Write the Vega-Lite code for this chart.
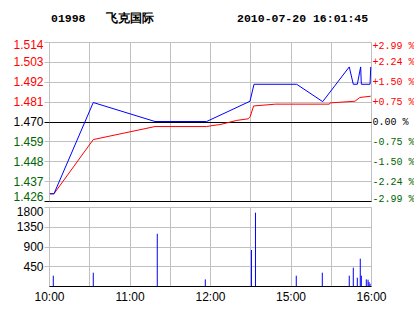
{
  "$schema": "https://vega.github.io/schema/vega-lite/v6.json",
  "background": "white",
  "padding": {"left": 12, "top": 12, "right": 0, "bottom": 0},
  "bounds": "flush",
  "title": {
    "text": "01998\u00a0\u00a0\u00a0飞克国际\u00a0\u00a0\u00a0\u00a0\u00a0\u00a0\u00a0\u00a0\u00a0\u00a0\u00a0\u00a02010-07-20\u00a016:01:45",
    "anchor": "start",
    "frame": "group",
    "font": "Liberation Mono",
    "fontSize": 11.5,
    "fontWeight": "bold",
    "color": "black",
    "offset": 14,
    "dx": 2
  },
  "config": {
    "view": {"stroke": "#c0c0c0"},
    "axis": {
      "labelFont": "Liberation Sans",
      "labelFontSize": 12,
      "labelColor": "black",
      "gridColor": "#c0c0c0",
      "gridOpacity": 1,
      "tickColor": "#c0c0c0",
      "domain": false,
      "title": null
    }
  },
  "datasets": {
    "price": [
      {"t": 0.7, "price": 1.43}, {"t": 3.7, "price": 1.43}, {"t": 33, "price": 1.4805},
      {"t": 79, "price": 1.47}, {"t": 117.5, "price": 1.47}, {"t": 149.8, "price": 1.4812},
      {"t": 152.8, "price": 1.4906}, {"t": 184.6, "price": 1.4906}, {"t": 204, "price": 1.481},
      {"t": 223.8, "price": 1.5002}, {"t": 226.8, "price": 1.4906}, {"t": 229.8, "price": 1.4906},
      {"t": 232.3, "price": 1.5002}, {"t": 232.8, "price": 1.4906}, {"t": 239.3, "price": 1.4906},
      {"t": 239.8, "price": 1.5002}
    ],
    "avg": [
      {"t": 0.7, "avg": 1.43}, {"t": 3.7, "avg": 1.43}, {"t": 33, "avg": 1.46},
      {"t": 79, "avg": 1.4672}, {"t": 117.5, "avg": 1.4672}, {"t": 122.2, "avg": 1.4678},
      {"t": 127.5, "avg": 1.4683}, {"t": 139.9, "avg": 1.4706}, {"t": 148.5, "avg": 1.4715},
      {"t": 150, "avg": 1.4728}, {"t": 152.5, "avg": 1.4786}, {"t": 169, "avg": 1.4796},
      {"t": 209, "avg": 1.4796}, {"t": 209.5, "avg": 1.4803}, {"t": 228, "avg": 1.4812},
      {"t": 231.7, "avg": 1.4833}, {"t": 239.8, "avg": 1.484}
    ],
    "vol": [
      {"t": 3.2, "vol": 235}, {"t": 33, "vol": 303}, {"t": 80.7, "vol": 1190},
      {"t": 116.5, "vol": 150}, {"t": 150.9, "vol": 820}, {"t": 153.9, "vol": 1670},
      {"t": 184.3, "vol": 235}, {"t": 203.7, "vol": 303}, {"t": 223.8, "vol": 235},
      {"t": 226.8, "vol": 417}, {"t": 229.8, "vol": 189}, {"t": 232, "vol": 622},
      {"t": 232.8, "vol": 235}, {"t": 236.5, "vol": 150}, {"t": 237.8, "vol": 144},
      {"t": 238.5, "vol": 91}, {"t": 239.3, "vol": 52}
    ]
  },
  "spacing": 6,
  "vconcat": [
    {
      "width": 322,
      "height": 159,
      "layer": [
        {
          "data": {"name": "avg"},
          "mark": {"type": "line", "color": "#ff0000", "strokeWidth": 1},
          "encoding": {
            "x": {
              "field": "t", "type": "quantitative",
              "scale": {"domain": [0, 240], "nice": false},
              "axis": {"values": [0, 30, 60, 90, 120, 150, 180, 210, 240], "labels": false, "ticks": false, "domain": true, "domainColor": "black", "grid": true}
            },
            "y": {
              "field": "avg", "type": "quantitative",
              "scale": {"domain": [1.426, 1.514], "nice": false, "zero": false},
              "axis": {
                "orient": "right",
                "values": [1.426, 1.437, 1.448, 1.459, 1.47, 1.481, 1.492, 1.503, 1.514],
                "grid": false,
                "ticks": false,
                "labelPadding": 1,
                "labelFlush": true,
                "labelFlushOffset": 2,
                "labelFont": "Liberation Mono",
                "labelFontSize": 10,
                "labelExpr": "abs(datum.value-1.47)<0.0001 ? '\u00a00.00 %' : (datum.value>1.47 ? '+' : '-') + format(abs(datum.value-1.47)/1.47*100, '.2f') + ' %'",
                "labelColor": {"condition": [{"test": "datum.value > 1.4705", "value": "#ff0000"}, {"test": "datum.value < 1.4695", "value": "#006600"}], "value": "black"}
              }
            }
          }
        },
        {
          "data": {"name": "price"},
          "mark": {"type": "line", "color": "#0000ff", "strokeWidth": 1},
          "encoding": {
            "x": {
              "field": "t", "type": "quantitative",
              "scale": {"domain": [0, 240], "nice": false},
              "axis": {"values": [0, 30, 60, 90, 120, 150, 180, 210, 240], "labels": false, "ticks": false, "domain": true, "domainColor": "black", "grid": true}
            },
            "y": {
              "field": "price", "type": "quantitative",
              "scale": {"domain": [1.426, 1.514], "nice": false, "zero": false},
              "axis": {
                "orient": "left",
                "values": [1.426, 1.437, 1.448, 1.459, 1.47, 1.481, 1.492, 1.503, 1.514],
                "format": ".3f",
                "grid": true,
                "tickSize": 5,
                "labelPadding": 1,
                "labelFlush": true,
                "labelFlushOffset": 2.5,
                "gridColor": {"condition": {"test": "abs(datum.value-1.47)<0.0001", "value": "black"}, "value": "#c0c0c0"},
                "tickColor": {"condition": {"test": "abs(datum.value-1.47)<0.0001 || datum.value < 1.43", "value": "black"}, "value": "#c0c0c0"},
                "labelColor": {"condition": [{"test": "datum.value > 1.4705", "value": "#ff0000"}, {"test": "datum.value < 1.4695", "value": "#006600"}], "value": "black"}
              }
            }
          }
        }
      ],
      "resolve": {"scale": {"y": "independent"}}
    },
    {
      "width": 322,
      "height": 79,
      "data": {"name": "vol"},
      "mark": {"type": "rule", "color": "#0000ff", "strokeWidth": 1},
      "encoding": {
        "x": {
          "field": "t", "type": "quantitative",
          "scale": {"domain": [0, 240], "nice": false},
          "axis": {
            "values": [0, 30, 60, 90, 120, 150, 180, 210, 240],
            "labelExpr": "datum.value==0 ? '10:00' : datum.value==60 ? '11:00' : datum.value==120 ? '12:00' : datum.value==180 ? '15:00' : datum.value==240 ? '16:00' : ''",
            "labelFlush": false,
            "labelOverlap": false,
            "ticks": false,
            "labelPadding": 5,
            "domain": true,
            "domainColor": "black",
            "grid": true
          }
        },
        "y": {
          "field": "vol", "type": "quantitative",
          "scale": {"domain": [0, 1800], "nice": false},
          "axis": {"values": [450, 900, 1350, 1800], "format": "d", "grid": true, "tickSize": 5, "labelPadding": 1, "labelFlush": true, "labelFlushOffset": 1}
        },
        "y2": {"datum": 0}
      }
    }
  ]
}
